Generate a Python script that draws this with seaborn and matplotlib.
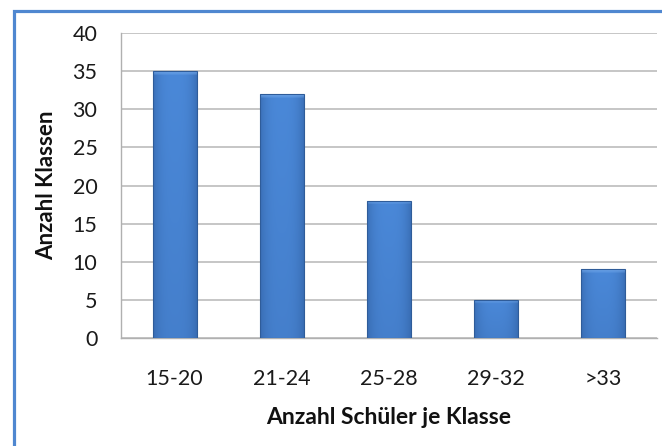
import numpy as np
import pandas as pd
import matplotlib
matplotlib.use("Agg")
import matplotlib.pyplot as plt
from matplotlib.patches import Rectangle
from matplotlib.colors import to_rgb
import seaborn as sns

# Class-size distribution
groups = ["15-20", "21-24", "25-28", "29-32", ">33"]
class_counts = [35, 32, 18, 5, 9]
y_ticks = [0, 5, 10, 15, 20, 25, 30, 35, 40]

df = pd.DataFrame({"Gruppe": groups, "Klassen": class_counts})

sns.set_theme(style="white")
plt.rcParams["font.family"] = ["Lato", "DejaVu Sans"]

W, H = 662, 446
fig = plt.figure(figsize=(W / 100, H / 100), dpi=100)
left, right, top, bottom = 121, 657, 33, 338
ax = fig.add_axes([left / W, 1 - bottom / H, (right - left) / W, (bottom - top) / H])

sns.barplot(data=df, x="Gruppe", y="Klassen", ax=ax, color="#4a86d4",
            width=0.41, saturation=1, edgecolor="#2f5c99", linewidth=0.8,
            zorder=3)

ax.set_ylim(0, 40)
ax.set_xlim(-0.5, len(groups) - 0.5)
ax.set_yticks(y_ticks)
ax.set_yticklabels([str(v) for v in y_ticks])
ax.yaxis.grid(True, color="#bcbcbc", linewidth=1.2, zorder=0)
ax.xaxis.grid(False)
ax.set_axisbelow(True)
ax.tick_params(axis="both", length=0, labelsize=15.5, colors="#1a1a1a")
ax.tick_params(axis="x", pad=22.5)
ax.tick_params(axis="y", pad=17)

for side in ("top", "right"):
    ax.spines[side].set_visible(False)
for side in ("left", "bottom"):
    ax.spines[side].set_color("#b0b0b0")
    ax.spines[side].set_linewidth(1.0)

ax.set_xlabel("Anzahl Schüler je Klasse", fontsize=16.5, fontweight="bold",
              color="#111111", labelpad=13)
ax.set_ylabel("Anzahl Klassen", fontsize=16, fontweight="bold",
              color="#111111", labelpad=11)

# Shaded fill for each bar: darker sides, darker toward the base, light bevel on top
fig.canvas.draw()
px_per_unit = (bottom - top) / 40.0
c_mid = np.array(to_rgb("#4a88d8"))
c_dark = np.array(to_rgb("#2f5e9f"))
c_low = np.array(to_rgb("#3b6fb6"))
c_bevel = np.array(to_rgb("#74aaec"))
for patch in ax.patches:
    x0, y0 = patch.get_x(), patch.get_y()
    w, h = patch.get_width(), patch.get_height()
    ncols = 60
    nrows = max(int(round(h * px_per_unit)), 2)
    t = np.linspace(0, 1, ncols)
    side = np.clip(np.abs(t - 0.5) * 2, 0, 1) ** 3
    v = np.linspace(0, 1, nrows)[:, None]  # 0 at top, 1 at base
    base = c_mid[None, None, :] * (1 - 0.35 * v[..., None]) + c_low[None, None, :] * (0.35 * v[..., None])
    img = base * (1 - 0.55 * side[None, :, None]) + c_dark[None, None, :] * (0.55 * side[None, :, None])
    bev = min(4, nrows)
    for r in range(bev):
        a = 0.85 * (1 - r / bev)
        img[r] = img[r] * (1 - a) + c_bevel[None, :] * a
    im = ax.imshow(img, extent=(x0, x0 + w, y0, y0 + h), origin="upper",
                   aspect="auto", interpolation="bilinear", zorder=3.5)
    im.set_clip_path(patch)
    patch.set_facecolor("none")
    patch.set_zorder(4)

ax.set_xlim(-0.5, len(groups) - 0.5)
ax.set_ylim(0, 40)

# Chart frame
fig.patches.append(Rectangle((13.5 / W, -0.1), 1.2, 1 - 10.5 / H + 0.1,
                             transform=fig.transFigure, fill=False,
                             edgecolor="#4f87d0", linewidth=2.3, zorder=10))

fig.savefig("out.png", dpi=100, facecolor="white")
